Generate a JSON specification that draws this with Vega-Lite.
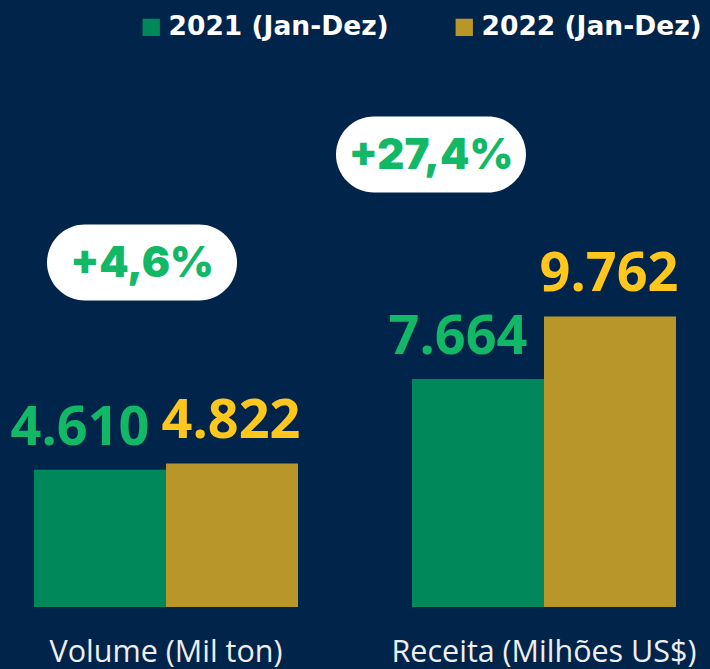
{
  "$schema": "https://vega.github.io/schema/vega-lite/v6.json",
  "width": 710,
  "height": 607,
  "padding": {"top": 0, "left": 0, "right": 0, "bottom": 62},
  "autosize": {"type": "none"},
  "background": "#01244a",
  "config": {"view": {"stroke": null}},
  "datasets": {
    "bars": [
      {"group": "Volume (Mil ton)", "year": "2021 (Jan-Dez)", "value": 4610, "label": "4.610"},
      {"group": "Volume (Mil ton)", "year": "2022 (Jan-Dez)", "value": 4822, "label": "4.822"},
      {"group": "Receita (Milhões US$)", "year": "2021 (Jan-Dez)", "value": 7664, "label": "7.664"},
      {"group": "Receita (Milhões US$)", "year": "2022 (Jan-Dez)", "value": 9762, "label": "9.762"}
    ],
    "badges": [
      {"group": "Volume (Mil ton)", "ref": 4822, "pct": "+4,6%"},
      {"group": "Receita (Milhões US$)", "ref": 9762, "pct": "+27,4%"}
    ]
  },
  "encoding": {
    "x": {
      "field": "group", "type": "nominal", "sort": null,
      "scale": {"domain": ["Volume (Mil ton)", "Receita (Milhões US$)"], "paddingInner": 0.3016, "paddingOuter": 0.09},
      "axis": {"title": null, "domain": false, "ticks": false, "labelAngle": 0, "labelFont": "Open Sans", "labelFontSize": 30.5, "labelFontWeight": 400, "labelColor": "#eeeeee", "labelBaseline": "middle", "labelPadding": 45, "labelLimit": 400}
    },
    "y": {
      "type": "quantitative",
      "scale": {"domain": [0, 20395], "nice": false, "zero": true},
      "axis": null
    }
  },
  "layer": [
    {
      "data": {"name": "bars"},
      "mark": {"type": "bar"},
      "encoding": {
        "y": {"field": "value", "type": "quantitative"},
        "xOffset": {"field": "year", "type": "nominal", "scale": {"paddingInner": 0, "paddingOuter": 0}},
        "color": {
          "field": "year", "type": "nominal",
          "scale": {"domain": ["2021 (Jan-Dez)", "2022 (Jan-Dez)"], "range": ["#00875a", "#b8962a"]},
          "legend": {
            "title": null, "orient": "none", "legendX": 138, "legendY": 14, "padding": 0, "direction": "horizontal",
            "symbolType": "square", "symbolSize": 300, "symbolStrokeWidth": 0, "symbolOpacity": 1,
            "labelFont": "DejaVu Sans", "labelFontSize": 26.5, "labelFontWeight": 700, "labelColor": "#ffffff",
            "labelLimit": 400, "columnPadding": 62, "labelOffset": 4
          }
        }
      }
    },
    {
      "data": {"name": "bars"},
      "transform": [{"filter": "datum.year === '2021 (Jan-Dez)'"}],
      "mark": {"type": "text", "font": "Open Sans", "fontSize": 54, "fontWeight": 700, "color": "#12b866", "baseline": "alphabetic", "dy": -25, "dx": -20},
      "encoding": {
        "y": {"field": "value", "type": "quantitative"},
        "xOffset": {"field": "year", "type": "nominal", "scale": {"domain": ["2021 (Jan-Dez)", "2022 (Jan-Dez)"], "paddingInner": 0, "paddingOuter": 0}},
        "text": {"field": "label"}
      }
    },
    {
      "data": {"name": "bars"},
      "transform": [{"filter": "datum.year === '2022 (Jan-Dez)'"}],
      "mark": {"type": "text", "font": "Open Sans", "fontSize": 54, "fontWeight": 700, "color": "#ffc61e", "baseline": "alphabetic", "dy": -25, "dx": -1},
      "encoding": {
        "y": {"field": "value", "type": "quantitative"},
        "xOffset": {"field": "year", "type": "nominal", "scale": {"domain": ["2021 (Jan-Dez)", "2022 (Jan-Dez)"], "paddingInner": 0, "paddingOuter": 0}},
        "text": {"field": "label"}
      }
    },
    {
      "data": {"name": "badges"},
      "transform": [{"filter": "datum.group === 'Volume (Mil ton)'"}],
      "layer": [
        {
          "mark": {"type": "point", "filled": true, "color": "#ffffff", "opacity": 1, "size": 36100, "xOffset": -24, "yOffset": -201,
            "shape": "M-0.6,-0.4 L0.6,-0.4 A0.4,0.4 0 0 1 0.6,0.4 L-0.6,0.4 A0.4,0.4 0 0 1 -0.6,-0.4 Z"},
          "encoding": {"y": {"field": "ref", "type": "quantitative"}}
        },
        {
          "mark": {"type": "text", "font": "Inter", "fontSize": 42, "fontWeight": 900, "color": "#12b866", "baseline": "middle", "dx": -24, "dy": -199},
          "encoding": {"y": {"field": "ref", "type": "quantitative"}, "text": {"field": "pct"}}
        }
      ]
    },
    {
      "data": {"name": "badges"},
      "transform": [{"filter": "datum.group === 'Receita (Milhões US$)'"}],
      "layer": [
        {
          "mark": {"type": "point", "filled": true, "color": "#ffffff", "opacity": 1, "size": 36100, "xOffset": -113, "yOffset": -162,
            "shape": "M-0.6,-0.4 L0.6,-0.4 A0.4,0.4 0 0 1 0.6,0.4 L-0.6,0.4 A0.4,0.4 0 0 1 -0.6,-0.4 Z"},
          "encoding": {"y": {"field": "ref", "type": "quantitative"}}
        },
        {
          "mark": {"type": "text", "font": "Inter", "fontSize": 42, "fontWeight": 900, "color": "#12b866", "baseline": "middle", "dx": -113, "dy": -160},
          "encoding": {"y": {"field": "ref", "type": "quantitative"}, "text": {"field": "pct"}}
        }
      ]
    }
  ]
}
